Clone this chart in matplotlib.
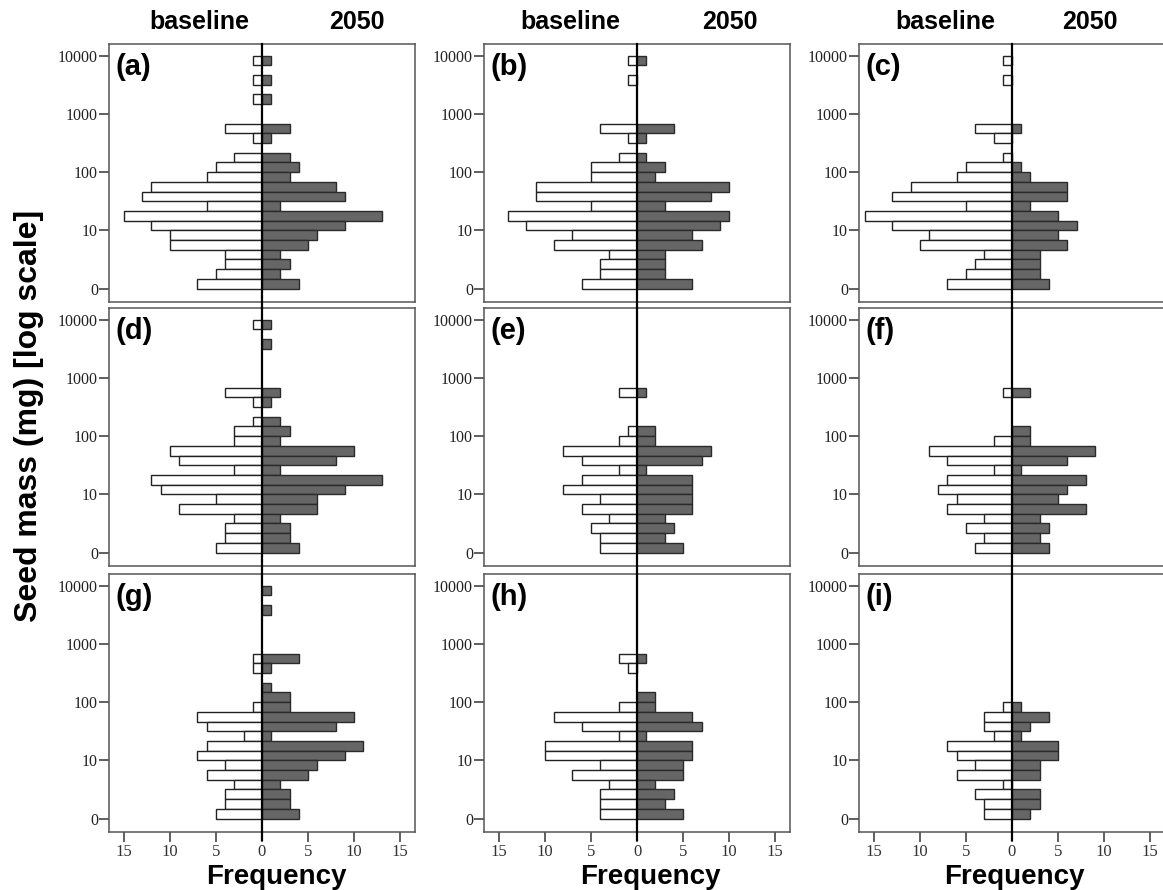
import numpy as np
import matplotlib
matplotlib.use("Agg")
import matplotlib.pyplot as plt

# Bins listed from the top of each panel (largest seed mass) downward;
# 24 bins of 1/6 decade covering log10(seed mass) 0..4
panel_labels = ["(a)", "(b)", "(c)", "(d)", "(e)", "(f)", "(g)", "(h)", "(i)"]
ytick_labels = ["0", "10", "100", "1000", "10000"]
xtick_labels = ["15", "10", "5", "0", "5", "10", "15"]
group_names = ["baseline", "2050"]

a_base = [1,0,1,0,1,0,0,4,1,0,3,5,6,12,13,6,15,12,10,10,4,4,5,7]
a_2050 = [1,0,1,0,1,0,0,3,1,0,3,4,3,8,9,2,13,9,6,5,2,3,2,4]
b_base = [1,0,1,0,0,0,0,4,1,0,2,5,5,11,11,5,14,12,7,9,3,4,4,6]
b_2050 = [1,0,0,0,0,0,0,4,1,0,1,3,2,10,8,3,10,9,6,7,3,3,3,6]
c_base = [1,0,1,0,0,0,0,4,2,0,1,5,6,11,13,5,16,13,9,10,3,4,5,7]
c_2050 = [0,0,0,0,0,0,0,1,0,0,0,1,2,6,6,2,5,7,5,6,3,3,3,4]
d_base = [1,0,0,0,0,0,0,4,1,0,1,3,3,10,9,3,12,11,5,9,3,4,4,5]
d_2050 = [1,0,1,0,0,0,0,2,1,0,2,3,2,10,8,2,13,9,6,6,2,3,3,4]
e_base = [0,0,0,0,0,0,0,2,0,0,0,1,2,8,6,2,6,8,4,6,3,5,4,4]
e_2050 = [0,0,0,0,0,0,0,1,0,0,0,2,2,8,7,1,6,6,6,6,3,4,3,5]
f_base = [0,0,0,0,0,0,0,1,0,0,0,0,2,9,7,2,7,8,6,7,3,5,3,4]
f_2050 = [0,0,0,0,0,0,0,2,0,0,0,2,2,9,6,1,8,6,5,8,3,4,3,4]
g_base = [0,0,0,0,0,0,0,1,1,0,0,0,1,7,6,2,6,7,4,6,3,4,4,5]
g_2050 = [1,0,1,0,0,0,0,4,1,0,1,3,3,10,8,1,11,9,6,5,2,3,3,4]
h_base = [0,0,0,0,0,0,0,2,1,0,0,0,2,9,6,2,10,10,4,7,3,4,4,4]
h_2050 = [0,0,0,0,0,0,0,1,0,0,0,2,2,6,7,1,6,6,5,5,2,4,3,5]
i_base = [0,0,0,0,0,0,0,0,0,0,0,0,1,3,3,2,7,6,4,6,1,4,3,3]
i_2050 = [0,0,0,0,0,0,0,0,0,0,0,0,1,4,2,1,5,5,3,3,0,3,3,2]

baseline_sets = [a_base, b_base, c_base, d_base, e_base, f_base, g_base, h_base, i_base]
future_sets = [a_2050, b_2050, c_2050, d_2050, e_2050, f_2050, g_2050, h_2050, i_2050]

W, H = 1163, 890
fig = plt.figure(figsize=(W / 100, H / 100), dpi=100)
fig.patch.set_facecolor("white")

col_left = [109, 484, 859]
row_top = [44, 308, 574]
ax_w, ax_h = 306, 258

nbins = 24
bw = 1.0 / 6
centers = 4 - (np.arange(nbins) + 0.5) * bw

sans = ["Liberation Sans", "DejaVu Sans"]
serif = ["Liberation Serif", "DejaVu Serif"]

for k in range(9):
    r, c = divmod(k, 3)
    left = col_left[c] / W
    bottom = 1 - (row_top[r] + ax_h) / H
    ax = fig.add_axes([left, bottom, ax_w / W, ax_h / H])
    base = np.array(baseline_sets[k], dtype=float)
    fut = np.array(future_sets[k], dtype=float)
    mb = base > 0
    mf = fut > 0
    ax.barh(centers[mb], -base[mb], height=bw, color="white",
            edgecolor="#222222", linewidth=1.0, zorder=2)
    ax.barh(centers[mf], fut[mf], height=bw, color="#666666",
            edgecolor="#2a2a2a", linewidth=1.0, zorder=2)
    ax.axvline(0, ymin=-0.03, ymax=1.0, color="black", lw=1.6, zorder=3,
               clip_on=False)
    ax.set_xlim(-16.6, 16.6)
    ax.set_ylim(-0.23, 4.2)
    ax.set_yticks(range(5))
    ax.set_yticklabels(ytick_labels, family=serif, fontsize=11.5,
                       color="#222222")
    ax.tick_params(axis="y", length=7, width=1.2, color="#444444", pad=1)
    if r == 2:
        ax.set_xticks([-15, -10, -5, 0, 5, 10, 15])
        ax.set_xticklabels(xtick_labels, family=serif, fontsize=12,
                           color="#333333")
        ax.tick_params(axis="x", length=7, width=1.2, color="#444444", pad=2)
    else:
        ax.set_xticks([])
    for s in ax.spines.values():
        s.set_color("#555555")
        s.set_linewidth(1.1)
    ax.text(0.02, 0.965, panel_labels[k], transform=ax.transAxes,
            ha="left", va="top", fontsize=21, fontweight="bold", family=sans)

# column headers
base_x = [199, 570, 945]
fut_x = [357, 730, 1090]
for c in range(3):
    fig.text(base_x[c] / W, 1 - 22 / H, group_names[0], ha="center",
             va="center", fontsize=18, fontweight="bold", family=sans)
    fig.text(fut_x[c] / W, 1 - 22 / H, group_names[1], ha="center",
             va="center", fontsize=18, fontweight="bold", family=sans)

freq_x = [276, 650, 1014]
for c in range(3):
    fig.text(freq_x[c] / W, 1 - 884 / H, "Frequency", ha="center",
             va="baseline", fontsize=20, fontweight="bold", family=sans)

fig.text(29 / W, 1 - 416 / H, "Seed mass (mg) [log scale]", rotation=90,
         ha="center", va="center", fontsize=23, fontweight="bold", family=sans)

fig.savefig("out.png", dpi=100, facecolor="white")
